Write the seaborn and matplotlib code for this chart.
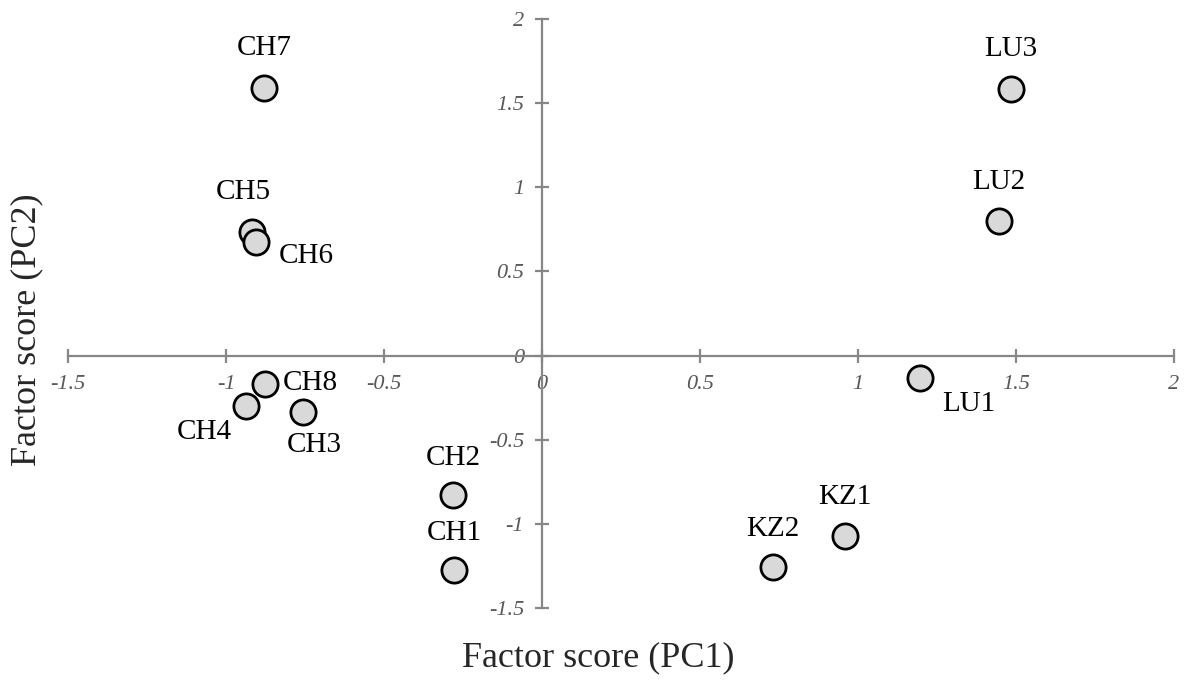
import matplotlib
matplotlib.use("Agg")
import matplotlib.pyplot as plt
import seaborn as sns
import pandas as pd

# Data
samples = ["CH7", "LU3", "LU2", "CH5", "CH6", "CH8", "CH4", "CH3", "LU1", "CH2", "CH1", "KZ2", "KZ1"]
pc1 = [-0.88, 1.484, 1.446, -0.918, -0.905, -0.877, -0.937, -0.756, 1.196, -0.282, -0.278, 0.731, 0.959]
pc2 = [1.59, 1.585, 0.80, 0.734, 0.675, -0.17, -0.30, -0.335, -0.133, -0.83, -1.275, -1.256, -1.072]
x_ticks = [-1.5, -1, -0.5, 0, 0.5, 1, 1.5, 2]
x_ticklabels = ["-1.5", "-1", "-0.5", "0", "0.5", "1", "1.5", "2"]
y_ticks = [-1.5, -1, -0.5, 0, 0.5, 1, 1.5, 2]
y_ticklabels = ["-1.5", "-1", "-0.5", "0", "0.5", "1", "1.5", "2"]

df = pd.DataFrame({"sample": samples, "PC1": pc1, "PC2": pc2})

sns.set_theme(style="white")
plt.rcParams["font.family"] = ["Liberation Serif", "DejaVu Serif"]

W, H = 1188, 684
fig = plt.figure(figsize=(W / 100, H / 100), dpi=100)
ax = fig.add_axes([68 / W, 1 - 608 / H, (1174 - 68) / W, (608 - 19) / H])

sns.scatterplot(data=df, x="PC1", y="PC2", ax=ax, s=330, color="#d9d9d9",
                edgecolor="black", linewidth=2, zorder=3, legend=False)

ax.set_xlim(-1.5, 2)
ax.set_ylim(-1.5, 2)

axis_col = "#868686"
for side in ["top", "right"]:
    ax.spines[side].set_visible(False)
ax.spines["left"].set_position(("data", 0))
ax.spines["bottom"].set_position(("data", 0))
for side in ["left", "bottom"]:
    ax.spines[side].set_color(axis_col)
    ax.spines[side].set_linewidth(1.6)

ax.set_xticks(x_ticks)
ax.set_xticklabels(x_ticklabels, fontsize=16, fontstyle="italic")
ax.set_yticks(y_ticks)
ax.set_yticklabels(y_ticklabels, fontsize=16, fontstyle="italic")
ax.tick_params(axis="both", direction="inout", length=10, width=1.6, color=axis_col,
               labelcolor="#595959")
ax.tick_params(axis="x", pad=9, bottom=True)
ax.tick_params(axis="y", pad=8, left=True)
ax.set_xlabel("")
ax.set_ylabel("")
ax.grid(False)

# label offsets in points (style)
offsets = {
    "CH7": (0, 29), "LU3": (0, 29), "LU2": (0, 28), "CH5": (-6, 29),
    "CH6": (36, -10), "CH8": (33, 1), "CH4": (-30, -19), "CH3": (8, -24),
    "LU1": (35, -19), "CH2": (0, 27), "CH1": (0, 27), "KZ2": (0, 27), "KZ1": (0, 28),
}
for s, x, y in zip(samples, pc1, pc2):
    dx, dy = offsets[s]
    ax.annotate(s, (x, y), xytext=(dx, dy), textcoords="offset points",
                ha="center", va="center", fontsize=21, color="black")

fig.text(598 / W, 1 - 658 / H, "Factor score (PC1)", ha="center", va="center", fontsize=26)
fig.text(27 / W, 1 - 330 / H, "Factor score (PC2)", ha="center", va="center", fontsize=26,
         rotation=90)

fig.savefig("out.png", dpi=100)
